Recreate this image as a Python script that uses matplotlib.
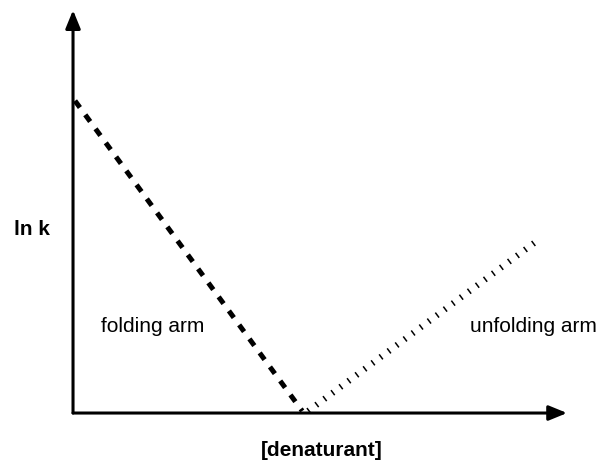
import matplotlib
matplotlib.use("Agg")
import matplotlib.pyplot as plt

# chevron plot data (arbitrary units)
folding_x = [0.04, 4.64]
folding_y = [7.75, 0.05]
unfolding_x = [4.76, 9.41]
unfolding_y = [0.05, 4.29]

plt.rcParams["font.family"] = ["Liberation Sans", "DejaVu Sans"]
plt.rcParams["lines.scale_dashes"] = False

fig = plt.figure(figsize=(6.01, 4.62), dpi=100)
ax = fig.add_axes([0.1215, 0.106, 0.822, 0.872])
ax.set_xlim(0, 10)
ax.set_ylim(0, 10)
ax.axis("off")

# axes with arrow heads
arrow = dict(arrowstyle="-|>,head_length=1.1,head_width=0.45", lw=2.2, color="black",
             shrinkA=0, shrinkB=0)
ax.annotate("", xy=(10, 0), xytext=(0, 0), arrowprops=arrow, annotation_clip=False)
ax.annotate("", xy=(0, 10), xytext=(0, 0), arrowprops=arrow, annotation_clip=False)

ax.plot(folding_x, folding_y, color="black", lw=3.6, dashes=(6, 6.5),
        solid_capstyle="butt", dash_capstyle="butt", clip_on=False)
ax.plot(unfolding_x, unfolding_y, color="black", lw=4.5, dashes=(1.1, 6.1),
        dash_capstyle="butt", clip_on=False)

ax.text(1.61, 2.01, "folding arm", fontsize=15, ha="center", va="baseline")
ax.text(9.32, 2.01, "unfolding arm", fontsize=15, ha="center", va="baseline")
ax.text(-0.83, 4.42, "ln k", fontsize=15, fontweight="bold", ha="center", va="baseline")
ax.text(5.03, -1.07, "[denaturant]", fontsize=15, fontweight="bold", ha="center",
        va="baseline")

fig.savefig("out.png", dpi=100)
